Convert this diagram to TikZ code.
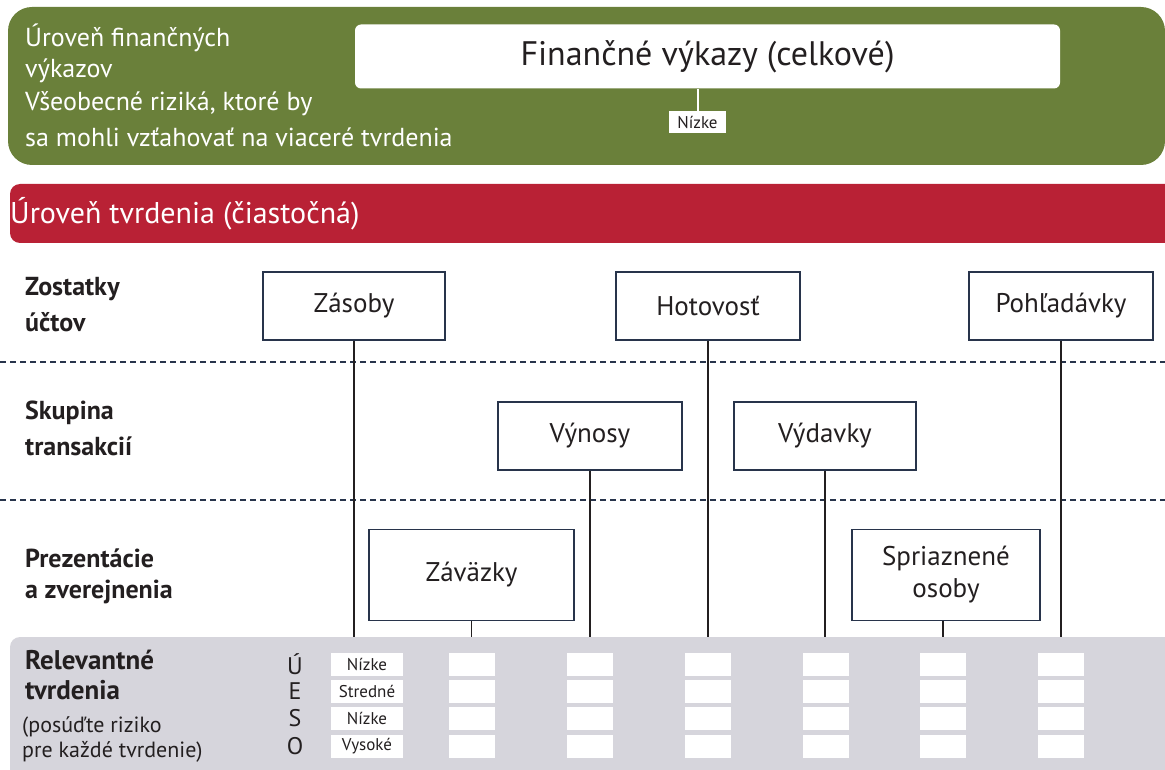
\documentclass[tikz,border=0pt]{standalone}
\usepackage{fontspec}
\setmainfont{PT Sans}
\begin{document}
\begin{tikzpicture}[x=1pt,y=-1pt,
  txt/.style={text=inkdark, inner sep=0pt},
  fs/.style={font=\fontsize{#1}{#1}\selectfont},
  acct/.style={draw=boxline, line width=1.3pt, fill=white, text=inkdark,
    font=\fontsize{27}{32}\selectfont, align=center, inner sep=0pt},
  lbl/.style={txt, anchor=west, font=\fontsize{26}{26}\bfseries\selectfont},
  cell/.style={fill=white, minimum width=46pt, minimum height=23pt, inner sep=0pt,
    text=inkdark, font=\fontsize{17}{17}\selectfont},
  link/.style={draw=inkdark, line width=1.5pt},
  sep/.style={draw=boxline, line width=2pt, dash pattern=on 6pt off 4pt}
]
\definecolor{leafgreen}{RGB}{106,128,58}
\definecolor{winered}{RGB}{185,33,53}
\definecolor{panelgray}{RGB}{214,213,220}
\definecolor{inkdark}{RGB}{35,31,32}
\definecolor{boxline}{RGB}{40,52,75}

\useasboundingbox (0,0) rectangle (1165,770);

% financial statement level
\fill[leafgreen, rounded corners=24pt] (8,7) rectangle (1165,165);
\node[txt, anchor=west, text=white, fs=26] at (25,38) {Úroveň finančných};
\node[txt, anchor=west, text=white, fs=26] at (25,71) {výkazov};
\node[txt, anchor=west, text=white, fs=26] at (25,104) {Všeobecné riziká, ktoré by};
\node[txt, anchor=west, text=white, fs=26] at (25,137) {sa mohli vzťahovať na viaceré tvrdenia};
\node[fill=white, rounded corners=6pt, minimum width=705pt, minimum height=64pt,
  inner sep=0pt, text=inkdark, font=\fontsize{34}{34}\selectfont] (fin) at (707.5,56.5)
  {Finančné výkazy (celkové)};
\node[fill=white, minimum width=57pt, minimum height=22pt, inner sep=0pt,
  text=inkdark, font=\fontsize{17}{17}\selectfont] (nz) at (697.5,122) {Nízke};
\draw[white, line width=2pt] (nz.north) -- (nz.north |- fin.south);

% assertion level
\fill[winered, rounded corners=10pt] (10,184) rectangle (1180,243);
\node[txt, anchor=west, text=white, fs=30] at (10,214) {Úroveň tvrdenia (čiastočná)};

% bottom panel
\fill[panelgray, rounded corners=10pt] (10,637) rectangle (1180,790);
\coordinate (gtop) at (0,637);

% row separators
\coordinate (s1a) at (0,362); \coordinate (s1b) at (1165,362);
\coordinate (s2a) at (0,500); \coordinate (s2b) at (1165,500);
\draw[sep] (s1a) -- (s1b);
\draw[sep] (s2a) -- (s2b);

% row labels
\node[lbl] at (25,289) {Zostatky};
\node[lbl] at (25,322) {účtov};
\node[lbl] at (25,413) {Skupina};
\node[lbl] at (25,446) {transakcií};
\node[lbl] at (25,558) {Prezentácie};
\node[lbl] at (25,592) {a zverejnenia};

% account boxes
\node[acct, minimum width=182pt, minimum height=68pt] (zas) at (354,306) {Zásoby};
\node[acct, minimum width=184pt, minimum height=68pt] (hot) at (708,306) {Hotovosť};
\node[acct, minimum width=184pt, minimum height=68pt] (poh) at (1061,306) {Pohľadávky};
\node[acct, minimum width=184pt, minimum height=68pt] (vyn) at (590,436) {Výnosy};
\node[acct, minimum width=182pt, minimum height=68pt] (vyd) at (825,436) {Výdavky};
\node[acct, minimum width=205pt, minimum height=91pt] (zav) at (471.5,575) {Záväzky};
\node[acct, minimum width=188pt, minimum height=91pt] (spr) at (946,575) {Spriaznené\\osoby};

% connectors down to the assertion panel
\draw[link] (zas.south) -- (zas.south |- gtop);
\draw[link] (zav.south) -- (zav.south |- gtop);
\draw[link] (vyn.south) -- (vyn.south |- gtop);
\draw[link] (hot.south) -- (hot.south |- gtop);
\draw[link] (vyd.south) -- (vyd.south |- gtop);
\draw[link] ([xshift=-3pt]spr.south) -- ([xshift=-3pt]spr.south |- gtop);
\draw[link] (poh.south) -- (poh.south |- gtop);

% panel texts
\node[txt, anchor=west, font=\fontsize{27}{27}\bfseries\selectfont] at (25,660) {Relevantné};
\node[txt, anchor=west, font=\fontsize{27}{27}\bfseries\selectfont] at (25,690) {tvrdenia};
\node[txt, anchor=west, fs=22] at (22,727) {(posúďte riziko};
\node[txt, anchor=west, fs=22] at (22,752) {pre každé tvrdenie)};
\node[txt, fs=24] (lu) at (295,664) {Ú};
\node[txt, fs=24] (le) at (295,691) {E};
\node[txt, fs=24] (ls) at (295,718) {S};
\node[txt, fs=24] (lo) at (295,746) {O};

% rating cells
\node[cell, minimum width=72pt] (c11) at (367,664.5) {Nízke};
\node[cell, minimum width=72pt] (c12) at (367,691.5) {Stredné};
\node[cell, minimum width=72pt] (c13) at (367,718) {Nízke};
\node[cell, minimum width=72pt] (c14) at (367,746.5) {Vysoké};
\foreach \x in {472,590,708,826,943,1061}{
  \node[cell] at (\x,664.5) {};
  \node[cell] at (\x,691.5) {};
  \node[cell] at (\x,718) {};
  \node[cell] at (\x,746.5) {};
}
\end{tikzpicture}
\end{document}
